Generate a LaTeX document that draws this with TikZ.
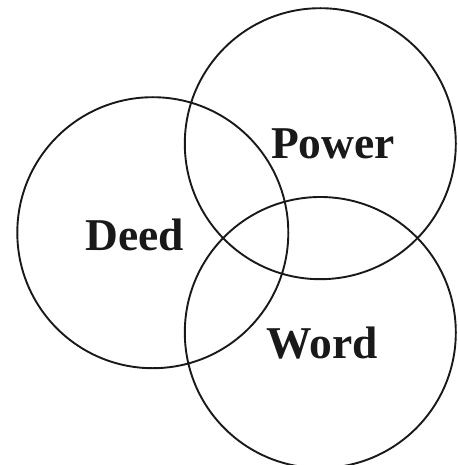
\documentclass[tikz,border=0pt]{standalone}
\usepackage{fontspec}
\setmainfont{Liberation Serif}
\begin{document}
\begin{tikzpicture}[x=1pt,y=-1pt,
  ring/.style={circle,draw=black!90,line width=1.9pt,minimum size=271pt,inner sep=0pt},
  lbl/.style={anchor=base,inner sep=0pt,font=\fontsize{45.5}{50}\selectfont\bfseries,text=black!90}]
\useasboundingbox (0,0) rectangle (457,465);
\node[ring] (deed) at (152.8,232.7) {};
\node[ring] (power) at (320.3,143.7) {};
\node[ring] (word) at (320.3,332.5) {};
\node[lbl] (tdeed) at (135,250) {Deed};
\node[lbl] (tpower) at (333,158.3) {Power};
\node[lbl] (tword) at (322.5,358) {Word};
\end{tikzpicture}
\end{document}
